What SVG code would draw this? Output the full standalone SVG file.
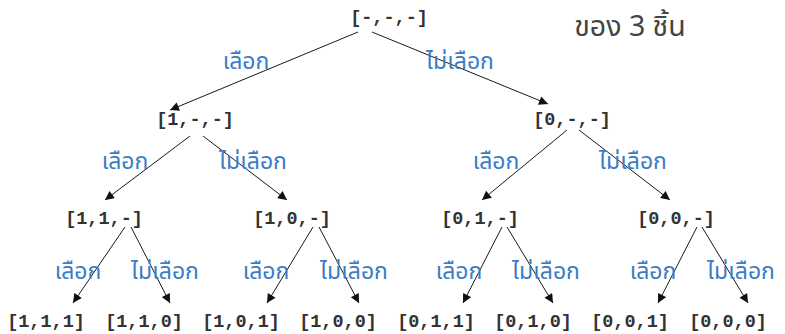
<svg xmlns="http://www.w3.org/2000/svg" width="785" height="334" viewBox="0 0 785 334">
<style>
.n{font-family:"Liberation Mono","DejaVu Sans Mono",monospace;font-weight:bold;font-size:18.5px;fill:#333;text-anchor:middle}
.l{font-family:"Noto Sans Thai","Noto Sans","DejaVu Sans",sans-serif;font-size:23px;fill:#3b7dc4;text-anchor:middle}
.t{font-family:"Noto Sans Thai","Noto Sans","DejaVu Sans",sans-serif;font-size:28.5px;fill:#444;text-anchor:middle}
.e{stroke:#1a1a1a;stroke-width:1;fill:none;marker-end:url(#ah)}
</style>
<defs>
<marker id="ah" viewBox="0 0 10 10" refX="10" refY="5" markerWidth="11" markerHeight="9" markerUnits="userSpaceOnUse" orient="auto">
<path d="M0,0 L10,5 L0,10 z" fill="#111"/>
</marker>
</defs>
<rect width="785" height="334" fill="#fff"/>
<g id="connectors">
<path class="e" d="M358,32 L170,110"/>
<path class="e" d="M372,32 L548,104"/>
<path class="e" d="M190,136 L105,200"/>
<path class="e" d="M203,136 L287,200"/>
<path class="e" d="M567,130 L482,200"/>
<path class="e" d="M579,130 L670,200"/>
<path class="e" d="M125,227 L73,303"/>
<path class="e" d="M131,227 L170,303"/>
<path class="e" d="M313,227 L267,303"/>
<path class="e" d="M319,227 L359,303"/>
<path class="e" d="M502,227 L463,303"/>
<path class="e" d="M507,227 L553,303"/>
<path class="e" d="M697,227 L658,303"/>
<path class="e" d="M702,227 L748,303"/>
</g>
<g id="labels">
<text class="l" x="246" y="69">เลือก</text>
<text class="l" x="460" y="69">ไม่เลือก</text>
<text class="l" x="125" y="169">เลือก</text>
<text class="l" x="253" y="169">ไม่เลือก</text>
<text class="l" x="496" y="169">เลือก</text>
<text class="l" x="633" y="169">ไม่เลือก</text>
<text class="l" x="78" y="279">เลือก</text>
<text class="l" x="165" y="279">ไม่เลือก</text>
<text class="l" x="266" y="279">เลือก</text>
<text class="l" x="354" y="279">ไม่เลือก</text>
<text class="l" x="459" y="279">เลือก</text>
<text class="l" x="546" y="279">ไม่เลือก</text>
<text class="l" x="653" y="279">เลือก</text>
<text class="l" x="741" y="279">ไม่เลือก</text>
</g>
<g id="title"><text class="t" x="630" y="36">ของ 3 ชิ้น</text></g>
<g id="n0"><text class="n" x="389" y="23">[-,-,-]</text></g>
<g id="n1"><text class="n" x="195" y="125">[1,-,-]</text></g>
<g id="n2"><text class="n" x="572" y="125">[0,-,-]</text></g>
<g id="n11"><text class="n" x="104" y="224">[1,1,-]</text></g>
<g id="n10"><text class="n" x="292" y="224">[1,0,-]</text></g>
<g id="n01"><text class="n" x="480" y="224">[0,1,-]</text></g>
<g id="n00"><text class="n" x="676" y="224">[0,0,-]</text></g>
<g id="n111"><text class="n" x="46" y="327">[1,1,1]</text></g>
<g id="n110"><text class="n" x="144" y="327">[1,1,0]</text></g>
<g id="n101"><text class="n" x="241" y="327">[1,0,1]</text></g>
<g id="n100"><text class="n" x="338" y="327">[1,0,0]</text></g>
<g id="n011"><text class="n" x="436" y="327">[0,1,1]</text></g>
<g id="n010"><text class="n" x="533" y="327">[0,1,0]</text></g>
<g id="n001"><text class="n" x="630" y="327">[0,0,1]</text></g>
<g id="n000"><text class="n" x="728" y="327">[0,0,0]</text></g>
</svg>
